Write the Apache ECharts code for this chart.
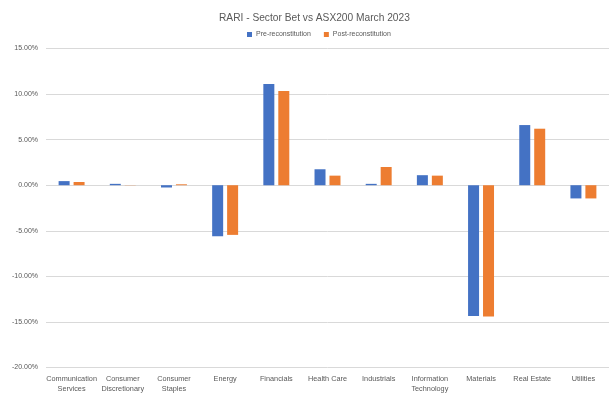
<!DOCTYPE html>
<html><head><meta charset="utf-8">
<script src="https://cdn.jsdelivr.net/npm/echarts@6/dist/echarts.min.js"></script>
<style>html,body{margin:0;padding:0;background:#fff}#c{width:615px;height:397px}</style>
</head><body><div id="c"></div>
<script>
const categories = ["Communication\nServices","Consumer\nDiscretionary","Consumer\nStaples","Energy","Financials","Health Care","Industrials","Information\nTechnology","Materials","Real Estate","Utilities"];
const preRecon = [0.45, 0.15, -0.25, -5.6, 11.1, 1.75, 0.15, 1.1, -14.35, 6.6, -1.45];
const postRecon = [0.35, 0.02, 0.1, -5.45, 10.35, 1.05, 2.0, 1.05, -14.4, 6.2, -1.45];
const seriesNames = ["Pre-reconstitution","Post-reconstitution"];
const FONT = "Liberation Sans";
const chart = echarts.init(document.getElementById('c'));
chart.setOption({
  animation:false,
  backgroundColor:'#fff',
  textStyle:{fontFamily:FONT},
  title:{text:'RARI - Sector Bet vs ASX200 March 2023',left:214,top:8,
    textStyle:{fontFamily:FONT,fontSize:10.2,fontWeight:'normal',color:'#595959'}},
  legend:{top:26,left:242,itemWidth:5,itemHeight:5,itemGap:13,icon:'rect',
    textStyle:{fontFamily:FONT,fontSize:7,color:'#595959',padding:[0,0,0,-1]},data:seriesNames},
  grid:{left:46,right:6,top:48.5,bottom:29.5,containLabel:false},
  xAxis:{type:'category',data:categories,
    axisLine:{show:false,onZero:false},axisTick:{show:false},
    axisLabel:{interval:0,fontFamily:FONT,fontSize:7.3,color:'#595959',lineHeight:10,margin:6}},
  yAxis:{type:'value',min:-20,max:15,interval:5,
    axisLine:{show:false},axisTick:{show:false},
    splitLine:{lineStyle:{color:'#d9d9d9',width:1}},
    axisLabel:{formatter:v=>v.toFixed(2)+'%',fontFamily:FONT,fontSize:7,color:'#595959',margin:8}},
  series:[
    {name:seriesNames[0],type:'bar',data:preRecon,barWidth:11,barGap:'36%',itemStyle:{color:'#4472C4'}},
    {name:seriesNames[1],type:'bar',data:postRecon,barWidth:11,itemStyle:{color:'#ED7D31'}}
  ]
});
</script></body></html>
